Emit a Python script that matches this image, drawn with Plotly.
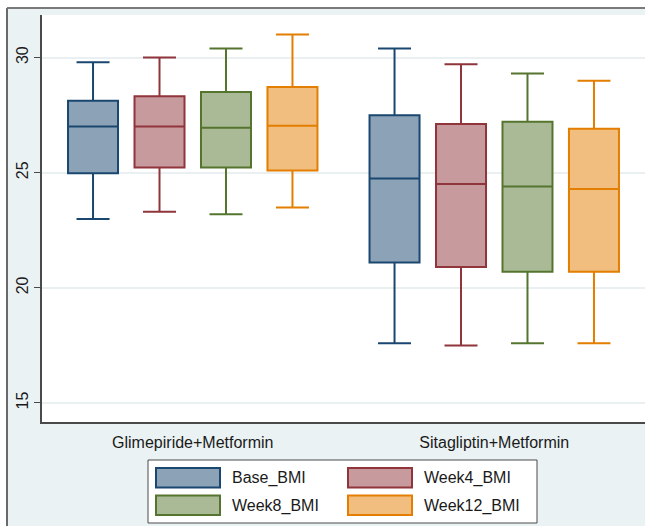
import plotly.graph_objects as go

# Treatment groups on the x axis
groups = ["Glimepiride+Metformin", "Sitagliptin+Metformin"]

# Measurement series
series = ["Base_BMI", "Week4_BMI", "Week8_BMI", "Week12_BMI"]

# Box statistics per series, one value per treatment group
lower_adj = {
    "Base_BMI":   [22.99, 17.59],
    "Week4_BMI":  [23.30, 17.49],
    "Week8_BMI":  [23.20, 17.59],
    "Week12_BMI": [23.49, 17.59],
}
q1 = {
    "Base_BMI":   [24.98, 21.10],
    "Week4_BMI":  [25.23, 20.90],
    "Week8_BMI":  [25.23, 20.70],
    "Week12_BMI": [25.10, 20.70],
}
median = {
    "Base_BMI":   [27.01, 24.75],
    "Week4_BMI":  [27.01, 24.51],
    "Week8_BMI":  [26.95, 24.40],
    "Week12_BMI": [27.04, 24.29],
}
q3 = {
    "Base_BMI":   [28.12, 27.50],
    "Week4_BMI":  [28.32, 27.11],
    "Week8_BMI":  [28.51, 27.21],
    "Week12_BMI": [28.72, 26.91],
}
upper_adj = {
    "Base_BMI":   [29.80, 30.39],
    "Week4_BMI":  [30.00, 29.71],
    "Week8_BMI":  [30.39, 29.31],
    "Week12_BMI": [31.00, 28.99],
}

y_ticks = [15, 20, 25, 30]

# Stata s2color-like palette: full colour for outlines, 50% intensity fill
line_colors = {
    "Base_BMI":   "rgb(26,71,111)",
    "Week4_BMI":  "rgb(144,53,59)",
    "Week8_BMI":  "rgb(85,117,47)",
    "Week12_BMI": "rgb(227,126,0)",
}
fill_colors = {
    "Base_BMI":   "rgb(140,163,183)",
    "Week4_BMI":  "rgb(199,154,157)",
    "Week8_BMI":  "rgb(170,186,151)",
    "Week12_BMI": "rgb(241,190,127)",
}

W, H = 645, 526
ML, MR, MT, MB = 42, 0, 15, 104
PW, PH = W - ML - MR, H - MT - MB
FONT = "Liberation Sans, Arial, sans-serif"
OUTER_BG = "#eaf2f3"


def fx(px):
    """pixel x -> paper x"""
    return (px - ML) / PW


def fy(py):
    """pixel y (from top) -> paper y"""
    return (H - MB - py) / PH


fig = go.Figure()

for s in series:
    fig.add_trace(go.Box(
        x=groups,
        q1=q1[s],
        median=median[s],
        q3=q3[s],
        lowerfence=lower_adj[s],
        upperfence=upper_adj[s],
        name=s,
        boxpoints=False,
        fillcolor=fill_colors[s],
        line=dict(color=line_colors[s], width=2),
        whiskerwidth=0.66,
        showlegend=False,
    ))

shapes = []
annotations = []

# Outer frame: white margin strips and a dark outline around the graph region
shapes.append(dict(type="rect", xref="paper", yref="paper",
                   x0=fx(0), x1=fx(7), y0=fy(H), y1=fy(0),
                   fillcolor="white", line=dict(width=0), layer="below"))
shapes.append(dict(type="rect", xref="paper", yref="paper",
                   x0=fx(0), x1=fx(W), y0=fy(8), y1=fy(0),
                   fillcolor="white", line=dict(width=0), layer="below"))
shapes.append(dict(type="line", xref="paper", yref="paper",
                   x0=fx(7), x1=fx(7), y0=fy(8), y1=fy(H),
                   line=dict(color="#6a6a6a", width=2)))
shapes.append(dict(type="line", xref="paper", yref="paper",
                   x0=fx(7), x1=fx(W), y0=fy(8), y1=fy(8),
                   line=dict(color="#7a7a7a", width=2)))

# Legend panel with wide swatches, two columns
shapes.append(dict(type="rect", xref="paper", yref="paper",
                   x0=fx(148), x1=fx(537), y0=fy(523), y1=fy(460),
                   fillcolor="white", line=dict(color="#4a4a4a", width=1)))
col_x = [156, 348]
row_y = [468, 495.5]
for i, s in enumerate(series):
    cx = col_x[i % 2]
    ry = row_y[i // 2]
    shapes.append(dict(type="rect", xref="paper", yref="paper",
                       x0=fx(cx), x1=fx(cx + 64), y0=fy(ry + 19.5), y1=fy(ry),
                       fillcolor=fill_colors[s],
                       line=dict(color=line_colors[s], width=2)))
    annotations.append(dict(xref="paper", yref="paper",
                            x=fx(cx + 74), y=fy(ry + 10),
                            xanchor="left", yanchor="middle",
                            text=s, showarrow=False,
                            font=dict(family=FONT, size=16, color="#1a1a1a")))

fig.update_layout(
    template="none",
    width=W, height=H,
    margin=dict(l=ML, r=MR, t=MT, b=MB, pad=0, autoexpand=False),
    paper_bgcolor=OUTER_BG,
    plot_bgcolor="white",
    boxmode="group",
    boxgap=0.118,
    boxgroupgap=0.248,
    font=dict(family=FONT, size=16, color="#1a1a1a"),
    shapes=shapes,
    annotations=annotations,
    showlegend=False,
)

fig.update_xaxes(
    type="category",
    categoryorder="array", categoryarray=groups,
    range=[-0.5, 1.5],
    automargin=False,
    showline=True, linecolor="#4a4a4a", linewidth=1.5,
    showgrid=False, zeroline=False,
    ticks="", ticklabelstandoff=5,
    tickfont=dict(family=FONT, size=16, color="#1a1a1a"),
)

fig.update_yaxes(
    range=[14.17, 31.85],
    automargin=False,
    tickvals=y_ticks,
    ticktext=[str(v) for v in y_ticks],
    tickangle=-90,
    ticks="outside", ticklen=6, tickcolor="#4a4a4a", tickwidth=1,
    showline=True, linecolor="#4a4a4a", linewidth=1.5,
    showgrid=True, gridcolor="#eaf0f2", gridwidth=1.5,
    zeroline=False,
    tickfont=dict(family=FONT, size=16, color="#1a1a1a"),
)

fig.write_html("out.html")
